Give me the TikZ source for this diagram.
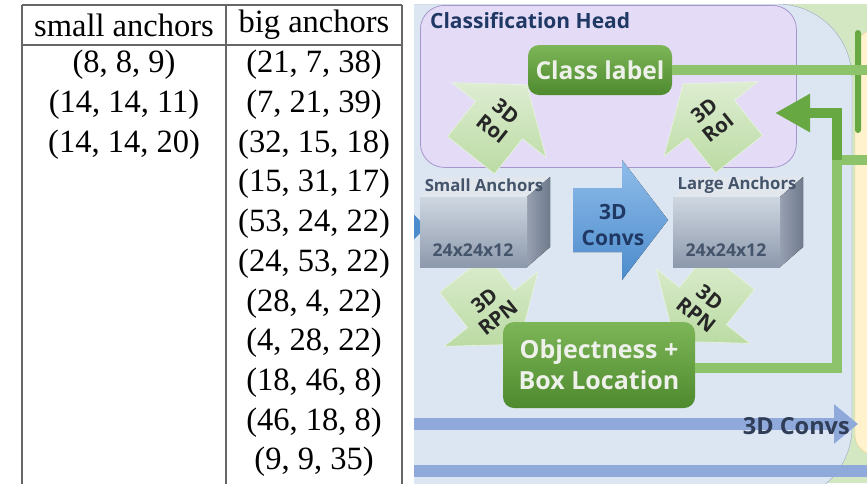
\documentclass[tikz,border=0pt]{standalone}
\usepackage{fontspec}
\setmainfont{Liberation Serif}
\newfontfamily\uisans{Open Sans}
\usepackage{tikz}
\usetikzlibrary{arrows.meta}

\definecolor{panelblue}{HTML}{DCE6F2}
\definecolor{regionedge}{HTML}{9AA8C4}
\definecolor{panelgreen}{HTML}{D3E7C3}
\definecolor{panelyellow}{HTML}{FFF2CC}
\definecolor{yellowedge}{HTML}{EAD28C}
\definecolor{headfill}{HTML}{E4DCF6}
\definecolor{headline}{HTML}{A696CC}
\definecolor{navy}{HTML}{1F3864}
\definecolor{slate}{HTML}{44546A}
\definecolor{boxtop}{HTML}{7DB658}
\definecolor{boxbot}{HTML}{4E8A2E}
\definecolor{boxtext}{HTML}{EEF1EA}
\definecolor{linkgreen}{HTML}{8DC46B}
\definecolor{fbgreen}{HTML}{68A843}
\definecolor{paletop}{HTML}{DDEDD1}
\definecolor{palebot}{HTML}{BBDBA3}
\definecolor{paleedge}{HTML}{E9F3E1}
\definecolor{convtop}{HTML}{8FBDEA}
\definecolor{convbot}{HTML}{4C8BCC}
\definecolor{barblue}{HTML}{8FA9DB}
\definecolor{cubetop}{HTML}{CED6E1}
\definecolor{cubebot}{HTML}{8D99AC}
\definecolor{cubelid}{HTML}{E2E7EE}
\definecolor{cubeside}{HTML}{96A0B1}
\definecolor{cubesidedark}{HTML}{6F7A8C}
\definecolor{convword}{HTML}{2F3D57}

\tikzstyle{cell} = [font=\fontsize{32.5}{36}\selectfont, inner sep=0pt]
\tikzstyle{rule} = [draw=black!60, line width=1.6pt]
\tikzstyle{headbox} = [draw=headline, fill=headfill, rounded corners=24pt, line width=0.8pt]
\tikzstyle{greenbox} = [rounded corners=11pt, top color=boxtop, bottom color=boxbot, text=boxtext, align=center, inner sep=0pt]
\tikzstyle{paleway} = [top color=paletop, bottom color=palebot, draw=paleedge, line width=0.6pt]
\tikzstyle{waytext} = [font=\uisans\bfseries\fontsize{20.5}{22}\selectfont, text=black!85, align=center, inner sep=0pt]
\tikzstyle{link} = [draw=linkgreen, line width=10pt]
\tikzstyle{feedback} = [draw=fbgreen, line width=10pt, -{Triangle[length=35pt,width=36pt]}]
\tikzstyle{bar} = [draw=barblue, line width=12pt]
\tikzstyle{cubeface} = [top color=cubetop, bottom color=cubebot, minimum width=107pt, minimum height=70pt, inner sep=0pt]
\tikzstyle{cubetext} = [font=\uisans\bfseries\fontsize{16.7}{18}\selectfont, text=slate, inner sep=0pt]

% pale block arrow: name, base of head, rotation, 1 = up / -1 = down, text
\newcommand{\pathway}[5]{%
  \begin{scope}[shift={#2}, rotate=#3, yscale=#4]
    \draw[paleway] (-30,45) -- (-30,0) -- (-60,0) -- (0,-45) -- (60,0) -- (30,0) -- (30,45) -- cycle;
  \end{scope}
  \node[waytext, rotate=#3] (#1) at #2 {#5};
}

\begin{document}
\begin{tikzpicture}[x=1pt, y=-1pt]
\useasboundingbox (0,0) rectangle (867,483);
\fill[white] (0,0) rectangle (867,483);

% table
\draw[rule] (22,5) -- (402,5);
\draw[rule] (22,45) -- (402,45);
\foreach \xx in {22,226,402}
  \draw[rule] (\xx,5) -- (\xx,484);
\node[cell] (smallhead) at (124,25) {small anchors};
\node[cell] (bighead) at (314,25) {big anchors};
\foreach \t [count=\i] in {{(8, 8, 9)}, {(14, 14, 11)}, {(14, 14, 20)}}
  \node[cell] (small\i) at (124,{65+39.7*(\i-1)}) {\t};
\foreach \t [count=\i] in {{(21, 7, 38)}, {(7, 21, 39)}, {(32, 15, 18)}, {(15, 31, 17)},
    {(53, 24, 22)}, {(24, 53, 22)}, {(28, 4, 22)}, {(4, 28, 22)}, {(18, 46, 8)},
    {(46, 18, 8)}, {(9, 9, 35)}}
  \node[cell] (big\i) at (314,{65+39.7*(\i-1)}) {\t};

% network
\begin{scope}
\clip (414,4) rectangle (867,483);
\fill[panelgreen] (414,4) rectangle (867,483);
\draw[draw=regionedge, fill=panelblue, rounded corners=75pt] (300,4) rectangle (852,502);
\draw[draw=yellowedge, fill=panelyellow, rounded corners=20pt] (855,30) rectangle (905,455);
\fill[fbgreen, rounded corners=3pt] (855,30) rectangle (861,133);

\node[headbox, anchor=north west, minimum width=376pt, minimum height=162pt] (head) at (420,5) {};
\node[font=\uisans\bfseries\fontsize{21}{24}\selectfont, text=navy, anchor=west, inner sep=0pt] (headtitle) at (430,21) {Classification Head};

\coordinate (convin) at (410,424);
\coordinate (convout) at (858,424);
\draw[bar, -{Triangle[length=24pt,width=38pt]}] (convin) -- (convout);
\coordinate (lowin) at (410,471);
\coordinate (lowout) at (870,471);
\draw[bar] (lowin) -- (lowout);

\pathway{roismall}{(499,120)}{-38.5}{1}{3D\\RoI}
\pathway{roilarge}{(711,119)}{38.5}{1}{3D\\RoI}
\pathway{rpnsmall}{(491,309)}{38.5}{-1}{3D\\RPN}
\pathway{rpnlarge}{(703,306)}{-38.5}{-1}{3D\\RPN}

\fill[convbot] (400,200) -- (426,227) -- (400,254) -- cycle;

\foreach \cx/\nm/\lbl in {420/smallcube/Small Anchors, 673/largecube/Large Anchors}{
  \fill[cubelid] (\cx,197) -- (\cx+23,177) -- (\cx+130,177) -- (\cx+107,197) -- cycle;
  \fill[left color=cubeside, right color=cubesidedark] (\cx+107,197) -- (\cx+130,177) -- (\cx+130,247) -- (\cx+107,267) -- cycle;
  \node[cubeface, anchor=north west] (\nm) at (\cx,197) {};
  \node[cubetext] (\nm-name) at (\cx+64,185) {\lbl};
  \node[cubetext, font=\uisans\bfseries\fontsize{17.6}{19}\selectfont] (\nm-size) at (\cx+53,250) {24x24x12};
}

\fill[top color=convtop, bottom color=convbot] (573,188) -- (622,188) -- (622,160) -- (668,220) -- (622,280) -- (622,252) -- (573,252) -- cycle;
\node[font=\uisans\bfseries\fontsize{21}{26}\selectfont, text=navy, align=center, inner sep=0pt] (convs) at (613,225) {3D\\Convs};

\node[greenbox, font=\uisans\bfseries\fontsize{24.6}{28}\selectfont, minimum width=144pt, minimum height=50pt] (classlabel) at (600,70) {Class label};
\node[greenbox, font=\uisans\bfseries\fontsize{25}{31}\selectfont, minimum width=192pt, minimum height=86pt] (objbox) at (599,365) {Objectness +\\Box Location};

\coordinate (classout) at (870,70);
\coordinate (fbturn) at (837,160);
\coordinate (fbout) at (870,160);
\coordinate (fbtip) at (775,113);
\draw[link] (classlabel.east) -- (classout);
\draw[link] ([yshift=-3pt]objbox.east) -| (fbturn) -- (fbout);
\draw[feedback] (fbturn) |- (fbtip);

\node[font=\uisans\bfseries\fontsize{23.5}{26}\selectfont, text=convword, anchor=east, inner sep=0pt] (convlabel) at (850,426) {3D Convs};
\end{scope}
\end{tikzpicture}
\end{document}
